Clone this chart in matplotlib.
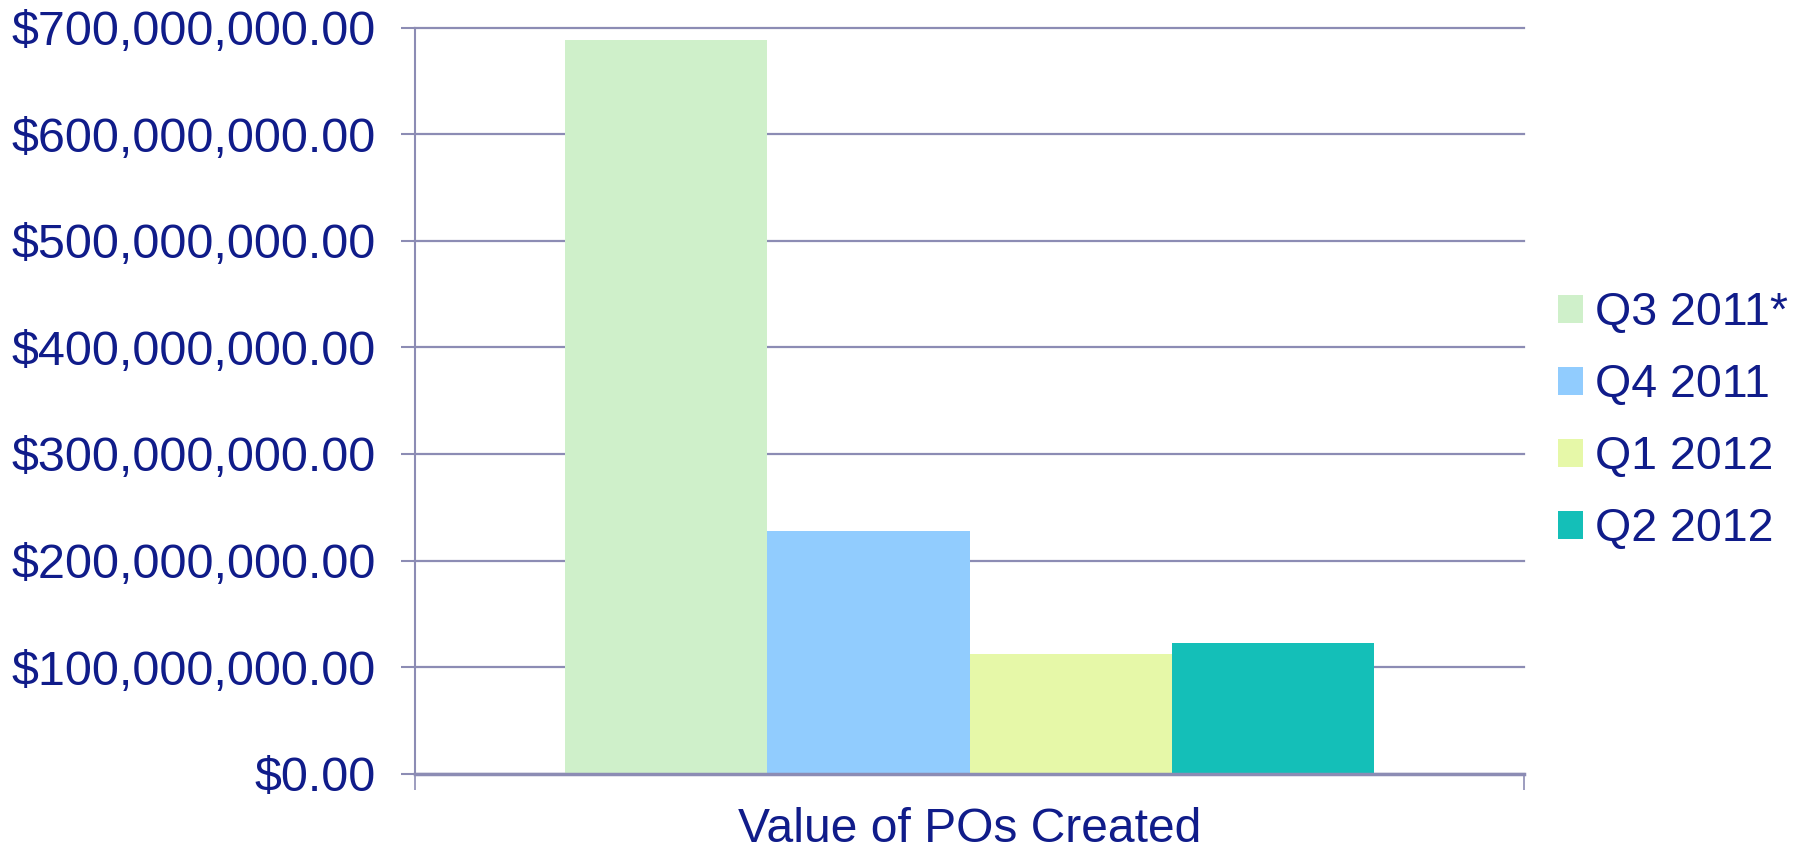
import numpy as np
import matplotlib
matplotlib.use("Agg")
import matplotlib.pyplot as plt
from matplotlib.ticker import FuncFormatter

plt.rcParams['font.family'] = ['Liberation Sans', 'DejaVu Sans']

# data
quarters = ["Q3 2011*", "Q4 2011", "Q1 2012", "Q2 2012"]
po_values = [688e6, 228e6, 112e6, 123e6]
bar_colors = ["#CFF0CA", "#91CCFE", "#E6F8A8", "#14BFB8"]
category = "Value of POs Created"
yticks = np.arange(0, 700e6 + 1, 100e6)

text_col = "#101C8A"
grid_col = "#8C8CB4"

fig = plt.figure(figsize=(18.08, 8.51), dpi=100)
ax = fig.add_axes([0.2296, 0.0908, 0.8429 - 0.2296, 0.9675 - 0.0908])

group_w = 0.73
bw = group_w / len(quarters)
start = -group_w / 2
for i, (q, v, c) in enumerate(zip(quarters, po_values, bar_colors)):
    ax.bar(start + bw * (i + 0.5), v, width=bw, color=c, label=q, zorder=2)

ax.set_xlim(-0.5, 0.5)
ax.set_ylim(0, 700e6)
ax.set_yticks(yticks)
ax.yaxis.set_major_formatter(FuncFormatter(lambda v, p: "${:,.2f}".format(v)))
ax.set_xticks([-0.5, 0.5])
ax.set_xticklabels(["", ""])

ax.tick_params(axis='y', direction='out', length=10, width=1.5, color=grid_col,
               labelsize=34.9, labelcolor=text_col, pad=18)
ax.tick_params(axis='x', direction='out', length=11.5, width=1.2, color=grid_col)

for s in ["top", "right"]:
    ax.spines[s].set_visible(False)
ax.spines["left"].set_color(grid_col)
ax.spines["left"].set_linewidth(1.5)
ax.spines["bottom"].set_color(grid_col)
ax.spines["bottom"].set_linewidth(2.5)
ax.spines["bottom"].set_zorder(3)

ax.yaxis.grid(True, color=grid_col, linewidth=1.6, zorder=1)
ax.set_axisbelow(True)
for gl in ax.yaxis.get_gridlines():
    gl.set_clip_on(False)

ax.set_xlabel(category, fontsize=34.6, color=text_col)
ax.xaxis.set_label_coords(0.5, -0.075)
ax.xaxis.label.set_va('center')

fig.legend(loc='center left', bbox_to_anchor=(0.8617, 0.505), bbox_transform=fig.transFigure,
           frameon=False, fontsize=33.5, labelcolor=text_col, handlelength=0.54,
           handleheight=0.54, handletextpad=0.26, labelspacing=0.6,
           borderpad=0, borderaxespad=0)

fig.savefig("out.png", dpi=100)
